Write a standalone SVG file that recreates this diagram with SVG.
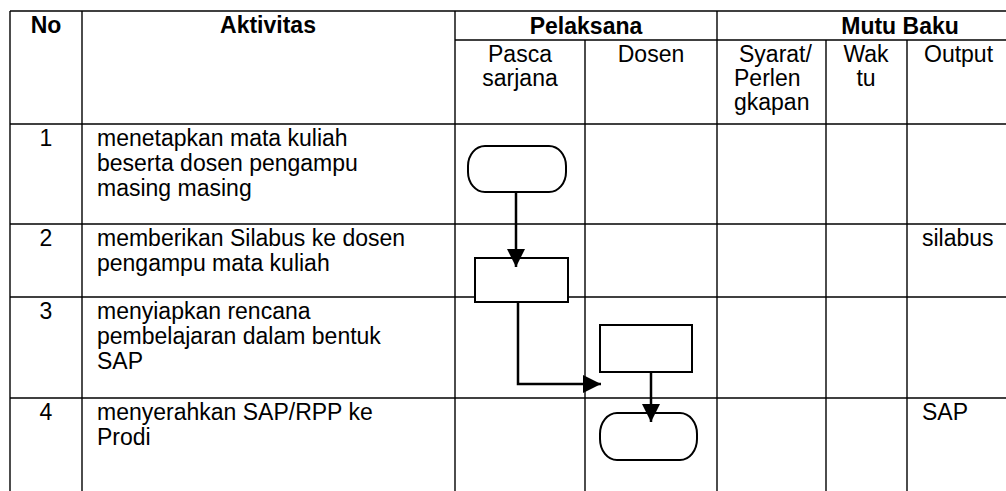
<svg xmlns="http://www.w3.org/2000/svg" width="1006" height="491" viewBox="0 0 1006 491">
<style>
.grid{stroke:#000;stroke-width:1.4;fill:none}
.shape{fill:#fff;stroke:#000;stroke-width:2}
.conn{fill:none;stroke:#000;stroke-width:2.5}
text{font-family:"Liberation Sans",Arial,sans-serif;font-size:23px;fill:#000}
.h{font-weight:bold;text-anchor:middle}
.c{text-anchor:middle}
</style>
<defs>
<marker id="ah" markerUnits="userSpaceOnUse" markerWidth="18" markerHeight="18" viewBox="0 0 16 16" refX="16" refY="8" orient="auto">
<path d="M0,0 L16,8 L0,16 Z" fill="#000"/>
</marker>
</defs>
<rect width="1006" height="491" fill="#fff"/>
<g id="table" class="grid">
<line x1="10" y1="11" x2="1006" y2="11"/>
<line x1="455" y1="40" x2="1006" y2="40"/>
<line x1="10" y1="124" x2="1006" y2="124"/>
<line x1="10" y1="224" x2="1006" y2="224"/>
<line x1="10" y1="297" x2="1006" y2="297"/>
<line x1="10" y1="398" x2="1006" y2="398"/>
<line x1="10" y1="11" x2="10" y2="491"/>
<line x1="82" y1="11" x2="82" y2="491"/>
<line x1="455" y1="11" x2="455" y2="491"/>
<line x1="585" y1="40" x2="585" y2="491"/>
<line x1="717" y1="11" x2="717" y2="491"/>
<line x1="826" y1="40" x2="826" y2="491"/>
<line x1="907" y1="40" x2="907" y2="491"/>
</g>
<g id="headers">
<text class="h" x="46" y="33">No</text>
<text class="h" x="268" y="33">Aktivitas</text>
<text class="h" x="586" y="34">Pelaksana</text>
<text class="h" x="900" y="34">Mutu Baku</text>
<text class="c" x="520" y="62">Pasca</text>
<text class="c" x="520" y="86">sarjana</text>
<text class="c" x="651" y="62">Dosen</text>
<text x="739" y="62">Syarat/</text>
<text x="734" y="86">Perlen</text>
<text x="734" y="110">gkapan</text>
<text class="c" x="866" y="62">Wak</text>
<text class="c" x="866" y="86">tu</text>
<text x="924" y="62">Output</text>
</g>
<g id="rows">
<text class="c" x="46" y="146">1</text>
<text x="97" y="146">menetapkan mata kuliah</text>
<text x="97" y="171">beserta dosen pengampu</text>
<text x="97" y="196">masing masing</text>
<text class="c" x="46" y="246">2</text>
<text x="97" y="246">memberikan Silabus ke dosen</text>
<text x="97" y="271">pengampu mata kuliah</text>
<text x="922" y="246">silabus</text>
<text class="c" x="46" y="319">3</text>
<text x="97" y="319">menyiapkan rencana</text>
<text x="97" y="344">pembelajaran dalam bentuk</text>
<text x="97" y="369">SAP</text>
<text class="c" x="46" y="420">4</text>
<text x="97" y="420">menyerahkan SAP/RPP ke</text>
<text x="97" y="445">Prodi</text>
<text x="922" y="420">SAP</text>
</g>
<g id="node-start">
<rect class="shape" x="468" y="146" width="98" height="46" rx="17" ry="20"/>
</g>
<g id="node-silabus">
<rect class="shape" x="475" y="258" width="93" height="44"/>
</g>
<g id="node-sap">
<rect class="shape" x="600" y="325" width="92" height="47"/>
</g>
<g id="node-end">
<rect class="shape" x="600" y="413" width="97" height="47" rx="17" ry="21"/>
</g>
<g id="connectors">
<line class="conn" x1="516" y1="192" x2="516" y2="267" marker-end="url(#ah)"/>
<polyline class="conn" points="518,302 518,384 601,384" marker-end="url(#ah)"/>
<line class="conn" x1="651" y1="372" x2="651" y2="422" marker-end="url(#ah)"/>
</g>
</svg>
